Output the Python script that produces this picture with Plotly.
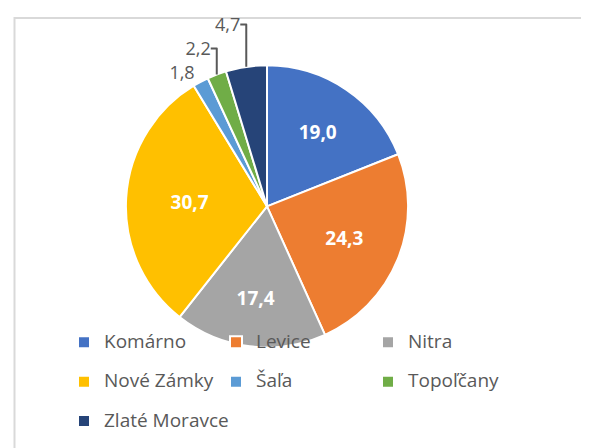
import plotly.graph_objects as go

labels = ["Komárno", "Levice", "Nitra", "Nové Zámky", "Šaľa", "Topoľčany", "Zlaté Moravce"]
values = [19.0, 24.3, 17.4, 30.7, 1.8, 2.2, 4.7]
colors = ["#4472C4", "#ED7D31", "#A5A5A5", "#FFC000", "#5B9BD5", "#70AD47", "#264478"]
text_positions = ["inside", "inside", "inside", "inside", "outside", "outside", "outside"]

W, H = 589, 448

legend_labels = [f"<span style='font-size:19px'>{l}</span><br> " for l in labels]

fig = go.Figure(go.Pie(
    labels=legend_labels,
    values=values,
    sort=False,
    direction="clockwise",
    rotation=0,
    marker=dict(colors=colors, line=dict(color="white", width=2)),
    texttemplate="%{value:.1f}",
    textposition=text_positions,
    insidetextorientation="horizontal",
    insidetextfont=dict(color="white", size=19, family="Open Sans", weight="bold"),
    outsidetextfont=dict(color="#595959", size=18, family="Open Sans"),
    domain=dict(x=[116 / W, 402 / W], y=[(H - 343) / H, (H - 57) / H]),
    hoverinfo="skip",
))

fig.update_layout(
    width=W, height=H,
    margin=dict(l=0, r=0, t=0, b=0),
    paper_bgcolor="white",
    separators=", ",
    font=dict(family="Open Sans", color="#595959"),
    showlegend=True,
    legend=dict(
        orientation="h",
        x=56 / W, xanchor="left",
        y=(H - 322) / H, yanchor="top",
        entrywidth=107, entrywidthmode="pixels",
        valign="top",
        font=dict(size=14, color="#595959", family="Open Sans"),
        itemclick=False, itemdoubleclick=False,
        bgcolor="rgba(0,0,0,0)",
    ),
    shapes=[dict(
        type="rect", xref="paper", yref="paper",
        x0=6.5 / W, x1=1.05, y0=-0.05, y1=(H - 9) / H,
        line=dict(color="#D9D9D9", width=2), fillcolor="rgba(0,0,0,0)", layer="below",
    )],
)

fig.write_html("out.html")
